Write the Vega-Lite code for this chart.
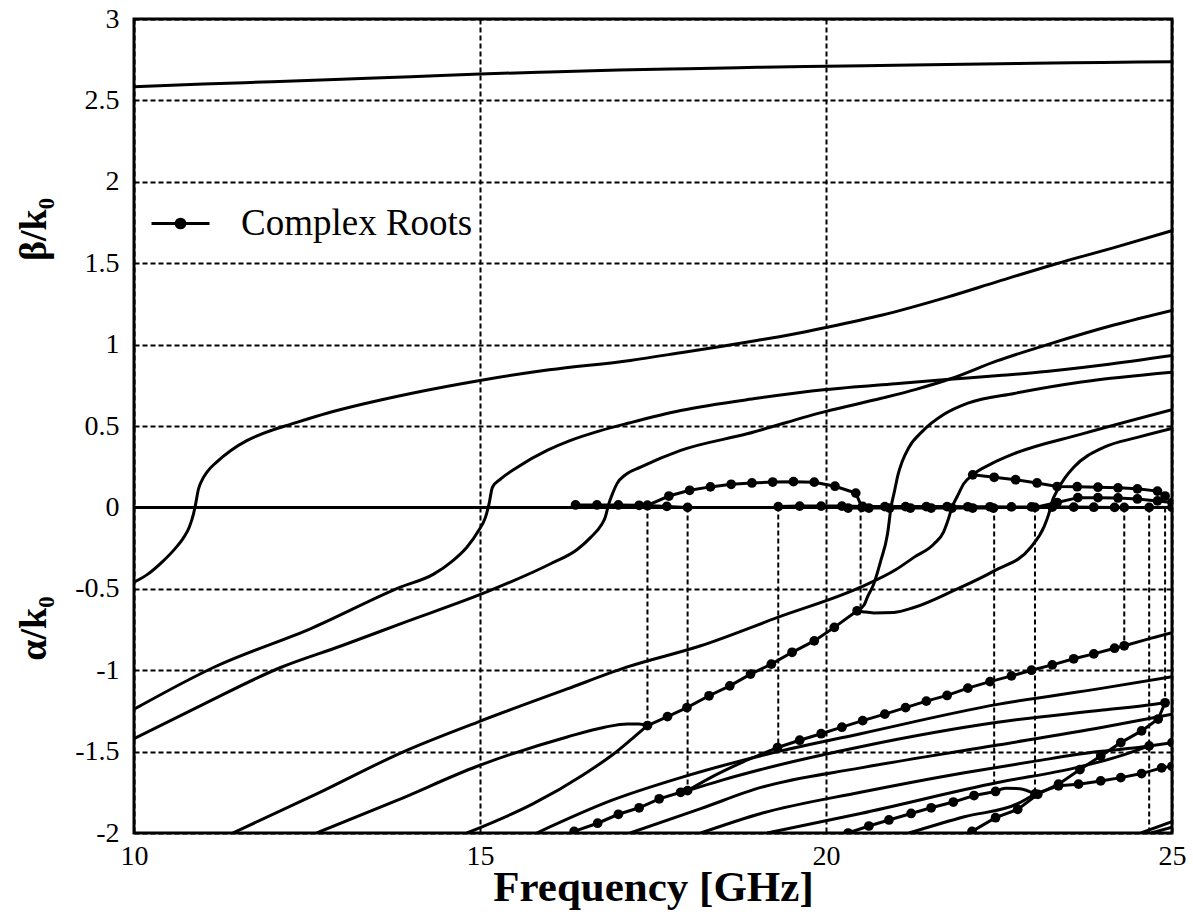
{
  "$schema": "https://vega.github.io/schema/vega-lite/v6.json",
  "width": 1038,
  "height": 814,
  "autosize": {"type": "none"},
  "padding": {"left": 134, "top": 19, "right": 21, "bottom": 88},
  "background": "white",
  "config": {
    "view": {"stroke": "black", "strokeWidth": 3},
    "font": "Liberation Serif",
    "axis": {
      "labelFont": "Liberation Serif",
      "labelFontSize": 28,
      "labelColor": "black",
      "labelFlush": false,
      "labelOverlap": false,
      "titleFont": "Liberation Serif",
      "titleFontSize": 40,
      "titleFontWeight": "bold",
      "titleColor": "black",
      "domain": false,
      "ticks": false,
      "gridColor": "black",
      "gridOpacity": 1,
      "gridWidth": 2,
      "gridDash": [5, 3]
    }
  },
  "datasets": {
    "links": [
      {"f": 17.42, "top": 0.012, "bottom": -1.34},
      {"f": 18.0, "top": 0.0, "bottom": -1.74},
      {"f": 19.31, "top": 0.005, "bottom": -1.475},
      {"f": 20.5, "top": 0.0, "bottom": -0.61},
      {"f": 22.43, "top": 0.0, "bottom": -1.745},
      {"f": 23.02, "top": 0.0, "bottom": -1.76},
      {"f": 24.31, "top": 0.0, "bottom": -0.85},
      {"f": 24.67, "top": 0.0, "bottom": -2.0},
      {"f": 24.9, "top": 0.0, "bottom": -1.2}
    ],
    "curves": [
      {"c": "top", "i": 0, "f": 10, "v": 2.584},
      {"c": "top", "i": 1, "f": 11, "v": 2.6},
      {"c": "top", "i": 2, "f": 12, "v": 2.615},
      {"c": "top", "i": 3, "f": 13, "v": 2.63},
      {"c": "top", "i": 4, "f": 14, "v": 2.645},
      {"c": "top", "i": 5, "f": 15, "v": 2.662},
      {"c": "top", "i": 6, "f": 16, "v": 2.675},
      {"c": "top", "i": 7, "f": 17, "v": 2.686},
      {"c": "top", "i": 8, "f": 18, "v": 2.695},
      {"c": "top", "i": 9, "f": 19, "v": 2.703},
      {"c": "top", "i": 10, "f": 20, "v": 2.71},
      {"c": "top", "i": 11, "f": 21, "v": 2.716},
      {"c": "top", "i": 12, "f": 22, "v": 2.722},
      {"c": "top", "i": 13, "f": 23, "v": 2.728},
      {"c": "top", "i": 14, "f": 24, "v": 2.733},
      {"c": "top", "i": 15, "f": 25, "v": 2.738},

      {"c": "zero", "i": 0, "f": 10, "v": 0},
      {"c": "zero", "i": 1, "f": 25, "v": 0},

      {"c": "A", "i": 0, "f": 10, "v": -0.46},
      {"c": "A", "i": 1, "f": 10.2, "v": -0.41},
      {"c": "A", "i": 2, "f": 10.42, "v": -0.33},
      {"c": "A", "i": 3, "f": 10.6, "v": -0.25},
      {"c": "A", "i": 4, "f": 10.71, "v": -0.19},
      {"c": "A", "i": 5, "f": 10.8, "v": -0.12},
      {"c": "A", "i": 6, "f": 10.86, "v": -0.04},
      {"c": "A", "i": 7, "f": 10.89, "v": 0.02},
      {"c": "A", "i": 8, "f": 10.93, "v": 0.11},
      {"c": "A", "i": 9, "f": 10.98, "v": 0.165},
      {"c": "A", "i": 10, "f": 11.06, "v": 0.22},
      {"c": "A", "i": 11, "f": 11.19, "v": 0.277},
      {"c": "A", "i": 12, "f": 11.4, "v": 0.35},
      {"c": "A", "i": 13, "f": 11.63, "v": 0.41},
      {"c": "A", "i": 14, "f": 12, "v": 0.475},
      {"c": "A", "i": 15, "f": 12.26, "v": 0.51},
      {"c": "A", "i": 16, "f": 12.8, "v": 0.58},
      {"c": "A", "i": 17, "f": 13.31, "v": 0.635},
      {"c": "A", "i": 18, "f": 14, "v": 0.7},
      {"c": "A", "i": 19, "f": 15, "v": 0.78},
      {"c": "A", "i": 20, "f": 16, "v": 0.845},
      {"c": "A", "i": 21, "f": 17.17, "v": 0.903},
      {"c": "A", "i": 22, "f": 17.9, "v": 0.95},
      {"c": "A", "i": 23, "f": 18.5, "v": 0.99},
      {"c": "A", "i": 24, "f": 19, "v": 1.025},
      {"c": "A", "i": 25, "f": 19.5, "v": 1.062},
      {"c": "A", "i": 26, "f": 20, "v": 1.105},
      {"c": "A", "i": 27, "f": 20.8, "v": 1.18},
      {"c": "A", "i": 28, "f": 21.74, "v": 1.29},
      {"c": "A", "i": 29, "f": 22.5, "v": 1.39},
      {"c": "A", "i": 30, "f": 23.33, "v": 1.497},
      {"c": "A", "i": 31, "f": 24.2, "v": 1.6},
      {"c": "A", "i": 32, "f": 25, "v": 1.7},

      {"c": "B", "i": 0, "f": 10, "v": -1.24},
      {"c": "B", "i": 1, "f": 11.14, "v": -0.985},
      {"c": "B", "i": 2, "f": 12.58, "v": -0.74},
      {"c": "B", "i": 3, "f": 13.85, "v": -0.49},
      {"c": "B", "i": 4, "f": 14.33, "v": -0.41},
      {"c": "B", "i": 5, "f": 14.6, "v": -0.33},
      {"c": "B", "i": 6, "f": 14.81, "v": -0.245},
      {"c": "B", "i": 7, "f": 14.98, "v": -0.142},
      {"c": "B", "i": 8, "f": 15.08, "v": -0.06},
      {"c": "B", "i": 9, "f": 15.13, "v": 0.02},
      {"c": "B", "i": 10, "f": 15.18, "v": 0.124},
      {"c": "B", "i": 11, "f": 15.3, "v": 0.175},
      {"c": "B", "i": 12, "f": 15.54, "v": 0.247},
      {"c": "B", "i": 13, "f": 15.97, "v": 0.35},
      {"c": "B", "i": 14, "f": 16.3, "v": 0.41},
      {"c": "B", "i": 15, "f": 16.73, "v": 0.47},
      {"c": "B", "i": 16, "f": 17.17, "v": 0.52},
      {"c": "B", "i": 17, "f": 17.9, "v": 0.595},
      {"c": "B", "i": 18, "f": 19, "v": 0.67},
      {"c": "B", "i": 19, "f": 20, "v": 0.724},
      {"c": "B", "i": 20, "f": 21, "v": 0.76},
      {"c": "B", "i": 21, "f": 21.74, "v": 0.785},
      {"c": "B", "i": 22, "f": 22.5, "v": 0.81},
      {"c": "B", "i": 23, "f": 23.18, "v": 0.835},
      {"c": "B", "i": 24, "f": 24, "v": 0.875},
      {"c": "B", "i": 25, "f": 25, "v": 0.933},

      {"c": "C", "i": 0, "f": 10, "v": -1.42},
      {"c": "C", "i": 1, "f": 11, "v": -1.21},
      {"c": "C", "i": 2, "f": 12.11, "v": -0.985},
      {"c": "C", "i": 3, "f": 13, "v": -0.85},
      {"c": "C", "i": 4, "f": 13.85, "v": -0.715},
      {"c": "C", "i": 5, "f": 15.15, "v": -0.51},
      {"c": "C", "i": 6, "f": 16.02, "v": -0.346},
      {"c": "C", "i": 7, "f": 16.4, "v": -0.26},
      {"c": "C", "i": 8, "f": 16.6, "v": -0.184},
      {"c": "C", "i": 9, "f": 16.75, "v": -0.11},
      {"c": "C", "i": 10, "f": 16.81, "v": -0.06},
      {"c": "C", "i": 11, "f": 16.86, "v": 0.02},
      {"c": "C", "i": 12, "f": 16.92, "v": 0.09},
      {"c": "C", "i": 13, "f": 16.98, "v": 0.146},
      {"c": "C", "i": 14, "f": 17.1, "v": 0.2},
      {"c": "C", "i": 15, "f": 17.32, "v": 0.247},
      {"c": "C", "i": 16, "f": 17.9, "v": 0.35},
      {"c": "C", "i": 17, "f": 18.86, "v": 0.452},
      {"c": "C", "i": 18, "f": 20, "v": 0.59},
      {"c": "C", "i": 19, "f": 20.8, "v": 0.67},
      {"c": "C", "i": 20, "f": 21.3, "v": 0.725},
      {"c": "C", "i": 21, "f": 21.8, "v": 0.79},
      {"c": "C", "i": 22, "f": 22.47, "v": 0.9},
      {"c": "C", "i": 23, "f": 23.2, "v": 1.0},
      {"c": "C", "i": 24, "f": 24.16, "v": 1.12},
      {"c": "C", "i": 25, "f": 25, "v": 1.21},

      {"c": "D", "i": 0, "f": 20.45, "v": -0.635},
      {"c": "D", "i": 1, "f": 20.55, "v": -0.6},
      {"c": "D", "i": 2, "f": 20.6, "v": -0.55},
      {"c": "D", "i": 3, "f": 20.69, "v": -0.47},
      {"c": "D", "i": 4, "f": 20.79, "v": -0.33},
      {"c": "D", "i": 5, "f": 20.89, "v": -0.16},
      {"c": "D", "i": 6, "f": 20.94, "v": 0.0},
      {"c": "D", "i": 7, "f": 20.99, "v": 0.1},
      {"c": "D", "i": 8, "f": 21.04, "v": 0.2},
      {"c": "D", "i": 9, "f": 21.1, "v": 0.28},
      {"c": "D", "i": 10, "f": 21.2, "v": 0.37},
      {"c": "D", "i": 11, "f": 21.4, "v": 0.47},
      {"c": "D", "i": 12, "f": 21.7, "v": 0.57},
      {"c": "D", "i": 13, "f": 22.05, "v": 0.64},
      {"c": "D", "i": 14, "f": 22.72, "v": 0.7},
      {"c": "D", "i": 15, "f": 23.69, "v": 0.77},
      {"c": "D", "i": 16, "f": 25, "v": 0.83},

      {"c": "E", "i": 0, "f": 20.45, "v": -0.635},
      {"c": "E", "i": 1, "f": 20.55, "v": -0.642},
      {"c": "E", "i": 2, "f": 20.69, "v": -0.648},
      {"c": "E", "i": 3, "f": 20.98, "v": -0.645},
      {"c": "E", "i": 4, "f": 21.27, "v": -0.615},
      {"c": "E", "i": 5, "f": 21.85, "v": -0.51},
      {"c": "E", "i": 6, "f": 22.43, "v": -0.39},
      {"c": "E", "i": 7, "f": 22.96, "v": -0.245},
      {"c": "E", "i": 8, "f": 23.15, "v": -0.12},
      {"c": "E", "i": 9, "f": 23.22, "v": -0.04},
      {"c": "E", "i": 10, "f": 23.27, "v": 0.04},
      {"c": "E", "i": 11, "f": 23.34, "v": 0.103},
      {"c": "E", "i": 12, "f": 23.45, "v": 0.18},
      {"c": "E", "i": 13, "f": 23.58, "v": 0.247},
      {"c": "E", "i": 14, "f": 24.02, "v": 0.37},
      {"c": "E", "i": 15, "f": 24.5, "v": 0.43},
      {"c": "E", "i": 16, "f": 25, "v": 0.485},

      {"c": "F", "i": 0, "f": 11.43, "v": -2},
      {"c": "F", "i": 1, "f": 12.64, "v": -1.76},
      {"c": "F", "i": 2, "f": 13.9, "v": -1.5},
      {"c": "F", "i": 3, "f": 14.96, "v": -1.32},
      {"c": "F", "i": 4, "f": 16.26, "v": -1.115},
      {"c": "F", "i": 5, "f": 17.13, "v": -0.98},
      {"c": "F", "i": 6, "f": 18.19, "v": -0.85},
      {"c": "F", "i": 7, "f": 19.3, "v": -0.676},
      {"c": "F", "i": 8, "f": 20.5, "v": -0.49},
      {"c": "F", "i": 9, "f": 21, "v": -0.385},
      {"c": "F", "i": 10, "f": 21.27, "v": -0.307},
      {"c": "F", "i": 11, "f": 21.56, "v": -0.225},
      {"c": "F", "i": 12, "f": 21.7, "v": -0.15},
      {"c": "F", "i": 13, "f": 21.77, "v": -0.07},
      {"c": "F", "i": 14, "f": 21.82, "v": 0.0},
      {"c": "F", "i": 15, "f": 21.9, "v": 0.07},
      {"c": "F", "i": 16, "f": 21.99, "v": 0.145},
      {"c": "F", "i": 17, "f": 22.12, "v": 0.2},
      {"c": "F", "i": 18, "f": 22.4, "v": 0.27},
      {"c": "F", "i": 19, "f": 22.72, "v": 0.33},
      {"c": "F", "i": 20, "f": 23.69, "v": 0.45},
      {"c": "F", "i": 21, "f": 25, "v": 0.6},

      {"c": "G", "i": 0, "f": 12.64, "v": -2},
      {"c": "G", "i": 1, "f": 13.8, "v": -1.8},
      {"c": "G", "i": 2, "f": 14.96, "v": -1.59},
      {"c": "G", "i": 3, "f": 16.26, "v": -1.41},
      {"c": "G", "i": 4, "f": 16.8, "v": -1.35},
      {"c": "G", "i": 5, "f": 17.13, "v": -1.33},
      {"c": "G", "i": 6, "f": 17.3, "v": -1.33},
      {"c": "G", "i": 7, "f": 17.42, "v": -1.34},

      {"c": "G2", "i": 0, "f": 14.81, "v": -2},
      {"c": "G2", "i": 1, "f": 15.77, "v": -1.82},
      {"c": "G2", "i": 2, "f": 16.5, "v": -1.64},
      {"c": "G2", "i": 3, "f": 16.93, "v": -1.515},
      {"c": "G2", "i": 4, "f": 17.2, "v": -1.42},
      {"c": "G2", "i": 5, "f": 17.42, "v": -1.34},

      {"c": "S1", "i": 0, "f": 15.82, "v": -2},
      {"c": "S1", "i": 1, "f": 16.9, "v": -1.8},
      {"c": "S1", "i": 2, "f": 17.9, "v": -1.66},
      {"c": "S1", "i": 3, "f": 19.06, "v": -1.525},
      {"c": "S1", "i": 4, "f": 20.5, "v": -1.39},
      {"c": "S1", "i": 5, "f": 22.48, "v": -1.21},
      {"c": "S1", "i": 6, "f": 24, "v": -1.11},
      {"c": "S1", "i": 7, "f": 25, "v": -1.04},

      {"c": "Ba", "i": 0, "f": 18, "v": -1.74},
      {"c": "Ba", "i": 1, "f": 18.4, "v": -1.645},
      {"c": "Ba", "i": 2, "f": 18.9, "v": -1.545},
      {"c": "Ba", "i": 3, "f": 19.3, "v": -1.475},

      {"c": "S2", "i": 0, "f": 18, "v": -1.74},
      {"c": "S2", "i": 1, "f": 18.5, "v": -1.675},
      {"c": "S2", "i": 2, "f": 19.06, "v": -1.61},
      {"c": "S2", "i": 3, "f": 20.5, "v": -1.47},
      {"c": "S2", "i": 4, "f": 22.48, "v": -1.32},
      {"c": "S2", "i": 5, "f": 24, "v": -1.245},
      {"c": "S2", "i": 6, "f": 24.72, "v": -1.21},
      {"c": "S2", "i": 7, "f": 24.9, "v": -1.2},

      {"c": "S3", "i": 0, "f": 17.17, "v": -2},
      {"c": "S3", "i": 1, "f": 18.19, "v": -1.85},
      {"c": "S3", "i": 2, "f": 19.06, "v": -1.72},
      {"c": "S3", "i": 3, "f": 20.5, "v": -1.6},
      {"c": "S3", "i": 4, "f": 22.48, "v": -1.46},
      {"c": "S3", "i": 5, "f": 24, "v": -1.35},
      {"c": "S3", "i": 6, "f": 25, "v": -1.27},

      {"c": "S4", "i": 0, "f": 18.19, "v": -2},
      {"c": "S4", "i": 1, "f": 19.06, "v": -1.88},
      {"c": "S4", "i": 2, "f": 20.5, "v": -1.75},
      {"c": "S4", "i": 3, "f": 22, "v": -1.63},
      {"c": "S4", "i": 4, "f": 23, "v": -1.56},
      {"c": "S4", "i": 5, "f": 23.94, "v": -1.5},
      {"c": "S4", "i": 6, "f": 24.4, "v": -1.48},
      {"c": "S4", "i": 7, "f": 24.67, "v": -1.465},

      {"c": "S5", "i": 0, "f": 19.15, "v": -2},
      {"c": "S5", "i": 1, "f": 20.5, "v": -1.88},
      {"c": "S5", "i": 2, "f": 22.48, "v": -1.69},
      {"c": "S5", "i": 3, "f": 23.6, "v": -1.6},
      {"c": "S5", "i": 4, "f": 24.3, "v": -1.52},
      {"c": "S5", "i": 5, "f": 24.67, "v": -1.465},

      {"c": "S6", "i": 0, "f": 21.2, "v": -2},
      {"c": "S6", "i": 1, "f": 22, "v": -1.9},
      {"c": "S6", "i": 2, "f": 22.77, "v": -1.82},
      {"c": "S6", "i": 3, "f": 23.02, "v": -1.76},

      {"c": "Lens", "i": 0, "f": 22.45, "v": -1.745},
      {"c": "Lens", "i": 1, "f": 22.6, "v": -1.725},
      {"c": "Lens", "i": 2, "f": 22.8, "v": -1.728},
      {"c": "Lens", "i": 3, "f": 23.02, "v": -1.76},

      {"c": "S7", "i": 0, "f": 24.55, "v": -2},
      {"c": "S7", "i": 1, "f": 25, "v": -1.93},
      {"c": "S8", "i": 0, "f": 24.7, "v": -2},
      {"c": "S8", "i": 1, "f": 25, "v": -1.965},

      {"c": "R3tail", "i": 0, "f": 24.31, "v": -0.85},
      {"c": "R3tail", "i": 1, "f": 24.6, "v": -0.815},
      {"c": "R3tail", "i": 2, "f": 25, "v": -0.77}
    ],
    "roots": [
      {"c": "R1", "i": 0, "f": 17.42, "v": -1.34},
      {"c": "R1", "i": 1, "f": 17.71, "v": -1.285},
      {"c": "R1", "i": 2, "f": 17.99, "v": -1.23},
      {"c": "R1", "i": 3, "f": 18.31, "v": -1.157},
      {"c": "R1", "i": 4, "f": 18.61, "v": -1.096},
      {"c": "R1", "i": 5, "f": 18.91, "v": -1.024},
      {"c": "R1", "i": 6, "f": 19.21, "v": -0.963},
      {"c": "R1", "i": 7, "f": 19.51, "v": -0.89},
      {"c": "R1", "i": 8, "f": 19.83, "v": -0.82},
      {"c": "R1", "i": 9, "f": 20.12, "v": -0.737},
      {"c": "R1", "i": 10, "f": 20.45, "v": -0.635},

      {"c": "B1", "i": 0, "f": 17.42, "v": 0.012},
      {"c": "B1", "i": 1, "f": 17.73, "v": 0.07},
      {"c": "B1", "i": 2, "f": 18.03, "v": 0.105},
      {"c": "B1", "i": 3, "f": 18.33, "v": 0.126},
      {"c": "B1", "i": 4, "f": 18.63, "v": 0.142},
      {"c": "B1", "i": 5, "f": 18.93, "v": 0.15},
      {"c": "B1", "i": 6, "f": 19.23, "v": 0.156},
      {"c": "B1", "i": 7, "f": 19.53, "v": 0.158},
      {"c": "B1", "i": 8, "f": 19.83, "v": 0.155},
      {"c": "B1", "i": 9, "f": 20.13, "v": 0.13},
      {"c": "B1", "i": 10, "f": 20.43, "v": 0.088},
      {"c": "B1", "i": 11, "f": 20.52, "v": 0.0},

      {"c": "B2", "i": 0, "f": 16.38, "v": 0.015},
      {"c": "B2", "i": 1, "f": 16.69, "v": 0.015},
      {"c": "B2", "i": 2, "f": 17.0, "v": 0.015},
      {"c": "B2", "i": 3, "f": 17.3, "v": 0.013},
      {"c": "B2", "i": 4, "f": 17.42, "v": 0.012},
      {"c": "B2", "i": 5, "f": 17.7, "v": 0.006},
      {"c": "B2", "i": 6, "f": 18.0, "v": 0.0},

      {"c": "R2", "i": 0, "f": 16.36, "v": -1.99},
      {"c": "R2", "i": 1, "f": 16.7, "v": -1.94},
      {"c": "R2", "i": 2, "f": 17.0, "v": -1.885},
      {"c": "R2", "i": 3, "f": 17.3, "v": -1.845},
      {"c": "R2", "i": 4, "f": 17.59, "v": -1.79},
      {"c": "R2", "i": 5, "f": 17.9, "v": -1.75},
      {"c": "R2", "i": 6, "f": 18.0, "v": -1.74},

      {"c": "R3", "i": 0, "f": 19.3, "v": -1.475},
      {"c": "R3", "i": 1, "f": 19.62, "v": -1.43},
      {"c": "R3", "i": 2, "f": 19.93, "v": -1.39},
      {"c": "R3", "i": 3, "f": 20.23, "v": -1.35},
      {"c": "R3", "i": 4, "f": 20.53, "v": -1.31},
      {"c": "R3", "i": 5, "f": 20.85, "v": -1.27},
      {"c": "R3", "i": 6, "f": 21.15, "v": -1.23},
      {"c": "R3", "i": 7, "f": 21.45, "v": -1.19},
      {"c": "R3", "i": 8, "f": 21.75, "v": -1.155},
      {"c": "R3", "i": 9, "f": 22.05, "v": -1.11},
      {"c": "R3", "i": 10, "f": 22.37, "v": -1.07},
      {"c": "R3", "i": 11, "f": 22.68, "v": -1.035},
      {"c": "R3", "i": 12, "f": 22.97, "v": -1.0},
      {"c": "R3", "i": 13, "f": 23.27, "v": -0.967},
      {"c": "R3", "i": 14, "f": 23.58, "v": -0.93},
      {"c": "R3", "i": 15, "f": 23.87, "v": -0.9},
      {"c": "R3", "i": 16, "f": 24.17, "v": -0.865},
      {"c": "R3", "i": 17, "f": 24.31, "v": -0.85},

      {"c": "B3", "i": 0, "f": 19.31, "v": 0.005},
      {"c": "B3", "i": 1, "f": 19.62, "v": 0.008},
      {"c": "B3", "i": 2, "f": 19.93, "v": 0.008},
      {"c": "B3", "i": 3, "f": 20.23, "v": 0.008},
      {"c": "B3", "i": 4, "f": 20.53, "v": 0.006},
      {"c": "B3", "i": 5, "f": 20.85, "v": 0.005},
      {"c": "B3", "i": 6, "f": 21.15, "v": 0.005},
      {"c": "B3", "i": 7, "f": 21.45, "v": 0.005},
      {"c": "B3", "i": 8, "f": 21.75, "v": 0.005},
      {"c": "B3", "i": 9, "f": 22.05, "v": 0.004},
      {"c": "B3", "i": 10, "f": 22.37, "v": 0.004},
      {"c": "B3", "i": 11, "f": 22.68, "v": 0.003},
      {"c": "B3", "i": 12, "f": 22.97, "v": 0.003},
      {"c": "B3", "i": 13, "f": 23.27, "v": 0.002},
      {"c": "B3", "i": 14, "f": 23.58, "v": 0.002},
      {"c": "B3", "i": 15, "f": 23.87, "v": 0.001},
      {"c": "B3", "i": 16, "f": 24.17, "v": 0.0},
      {"c": "B3", "i": 17, "f": 24.31, "v": 0.0},

      {"c": "R7", "i": 0, "f": 20.32, "v": -2.0},
      {"c": "R7", "i": 1, "f": 20.62, "v": -1.957},
      {"c": "R7", "i": 2, "f": 20.91, "v": -1.92},
      {"c": "R7", "i": 3, "f": 21.23, "v": -1.88},
      {"c": "R7", "i": 4, "f": 21.52, "v": -1.845},
      {"c": "R7", "i": 5, "f": 21.84, "v": -1.81},
      {"c": "R7", "i": 6, "f": 22.14, "v": -1.77},
      {"c": "R7", "i": 7, "f": 22.45, "v": -1.745},

      {"c": "B7", "i": 0, "f": 20.32, "v": -0.004},
      {"c": "B7", "i": 1, "f": 20.62, "v": -0.004},
      {"c": "B7", "i": 2, "f": 20.92, "v": -0.004},
      {"c": "B7", "i": 3, "f": 21.22, "v": -0.004},
      {"c": "B7", "i": 4, "f": 21.52, "v": -0.004},
      {"c": "B7", "i": 5, "f": 21.82, "v": -0.004},
      {"c": "B7", "i": 6, "f": 22.12, "v": -0.004},
      {"c": "B7", "i": 7, "f": 22.42, "v": -0.004},

      {"c": "R5", "i": 0, "f": 22.11, "v": -1.99},
      {"c": "R5", "i": 1, "f": 22.45, "v": -1.906},
      {"c": "R5", "i": 2, "f": 22.77, "v": -1.855},
      {"c": "R5", "i": 3, "f": 23.06, "v": -1.762},
      {"c": "R5", "i": 4, "f": 23.36, "v": -1.7},
      {"c": "R5", "i": 5, "f": 23.67, "v": -1.61},
      {"c": "R5", "i": 6, "f": 23.97, "v": -1.527},
      {"c": "R5", "i": 7, "f": 24.26, "v": -1.445},
      {"c": "R5", "i": 8, "f": 24.56, "v": -1.373},
      {"c": "R5", "i": 9, "f": 24.8, "v": -1.3},
      {"c": "R5", "i": 10, "f": 24.9, "v": -1.2},

      {"c": "B5", "i": 0, "f": 22.12, "v": 0.2},
      {"c": "B5", "i": 1, "f": 22.43, "v": 0.185},
      {"c": "B5", "i": 2, "f": 22.74, "v": 0.17},
      {"c": "B5", "i": 3, "f": 23.05, "v": 0.15},
      {"c": "B5", "i": 4, "f": 23.34, "v": 0.128},
      {"c": "B5", "i": 5, "f": 23.63, "v": 0.127},
      {"c": "B5", "i": 6, "f": 23.93, "v": 0.124},
      {"c": "B5", "i": 7, "f": 24.22, "v": 0.12},
      {"c": "B5", "i": 8, "f": 24.5, "v": 0.114},
      {"c": "B5", "i": 9, "f": 24.79, "v": 0.1},
      {"c": "B5", "i": 10, "f": 24.9, "v": 0.07},

      {"c": "R7b", "i": 0, "f": 23.02, "v": -1.76},
      {"c": "R7b", "i": 1, "f": 23.36, "v": -1.71},
      {"c": "R7b", "i": 2, "f": 23.65, "v": -1.7},
      {"c": "R7b", "i": 3, "f": 23.97, "v": -1.68},
      {"c": "R7b", "i": 4, "f": 24.26, "v": -1.66},
      {"c": "R7b", "i": 5, "f": 24.56, "v": -1.635},
      {"c": "R7b", "i": 6, "f": 24.85, "v": -1.6},
      {"c": "R7b", "i": 7, "f": 25, "v": -1.59},

      {"c": "B7b", "i": 0, "f": 23.02, "v": 0.0},
      {"c": "B7b", "i": 1, "f": 23.34, "v": 0.03},
      {"c": "B7b", "i": 2, "f": 23.64, "v": 0.06},
      {"c": "B7b", "i": 3, "f": 23.93, "v": 0.06},
      {"c": "B7b", "i": 4, "f": 24.22, "v": 0.058},
      {"c": "B7b", "i": 5, "f": 24.5, "v": 0.052},
      {"c": "B7b", "i": 6, "f": 24.79, "v": 0.04},
      {"c": "B7b", "i": 7, "f": 25, "v": 0.03},

      {"c": "R6", "i": 0, "f": 24.67, "v": -1.465},
      {"c": "R6", "i": 1, "f": 25, "v": -1.445},
      {"c": "B6", "i": 0, "f": 24.67, "v": 0.0},
      {"c": "B6", "i": 1, "f": 25, "v": 0.0}
    ]
  },
  "layer": [
    {
      "data": {"name": "links"},
      "mark": {"type": "rule", "color": "black", "strokeWidth": 2, "strokeDash": [5, 3]},
      "encoding": {
        "x": {
          "field": "f",
          "type": "quantitative",
          "scale": {"domain": [10, 25], "nice": false, "zero": false},
          "axis": {
            "values": [10, 15, 20, 25],
            "labelExpr": "'' + datum.value",
            "grid": true,
            "labelPadding": 9,
            "title": "Frequency [GHz]",
            "titleFontSize": 43,
            "titleY": 67,
            "titleBaseline": "alphabetic"
          }
        },
        "y": {
          "field": "top",
          "type": "quantitative",
          "scale": {"domain": [-2, 3], "nice": false, "zero": false},
          "axis": {
            "values": [-2, -1.5, -1, -0.5, 0, 0.5, 1, 1.5, 2, 2.5, 3],
            "labelExpr": "'' + datum.value",
            "grid": true,
            "labelPadding": 15,
            "title": "α/k₀",
            "titleFontSize": 38,
            "titleX": -100,
            "titleY": 609,
            "titleAlign": "center",
            "titleBaseline": "middle",
            "titleAngle": -90
          }
        },
        "y2": {"field": "bottom"}
      }
    },
    {
      "data": {"name": "curves"},
      "mark": {"type": "line", "color": "black", "strokeWidth": 3, "interpolate": "monotone", "clip": true},
      "encoding": {
        "x": {"field": "f", "type": "quantitative"},
        "y": {
          "field": "v",
          "type": "quantitative",
          "axis": {
            "orient": "left",
            "labels": false,
            "grid": false,
            "title": "β/k₀",
            "titleFontSize": 38,
            "titleX": -100,
            "titleY": 210,
            "titleAlign": "center",
            "titleBaseline": "middle",
            "titleAngle": -90
          }
        },
        "detail": {"field": "c"},
        "order": {"field": "i"}
      }
    },
    {
      "data": {"name": "roots"},
      "mark": {"type": "line", "strokeWidth": 3, "clip": true, "point": {"filled": true, "size": 95}},
      "encoding": {
        "x": {"field": "f", "type": "quantitative"},
        "y": {"field": "v", "type": "quantitative", "axis": null},
        "detail": {"field": "c"},
        "order": {"field": "i"},
        "color": {
          "datum": "Complex Roots",
          "scale": {"range": ["black"]},
          "legend": {
            "orient": "none",
            "legendX": 16,
            "legendY": 174,
            "title": null,
            "padding": 0,
            "symbolType": "M-1,0H1M0.15,0A0.15,0.15,0,1,1,-0.15,0A0.15,0.15,0,1,1,0.15,0Z",
            "symbolSize": 3364,
            "symbolStrokeWidth": 3,
            "symbolFillColor": "black",
            "symbolStrokeColor": "black",
            "labelFont": "Liberation Serif",
            "labelFontSize": 37,
            "labelLimit": 0,
            "labelColor": "black",
            "labelOffset": 30
          }
        }
      }
    }
  ],
  "resolve": {"axis": {"y": "independent"}}
}
